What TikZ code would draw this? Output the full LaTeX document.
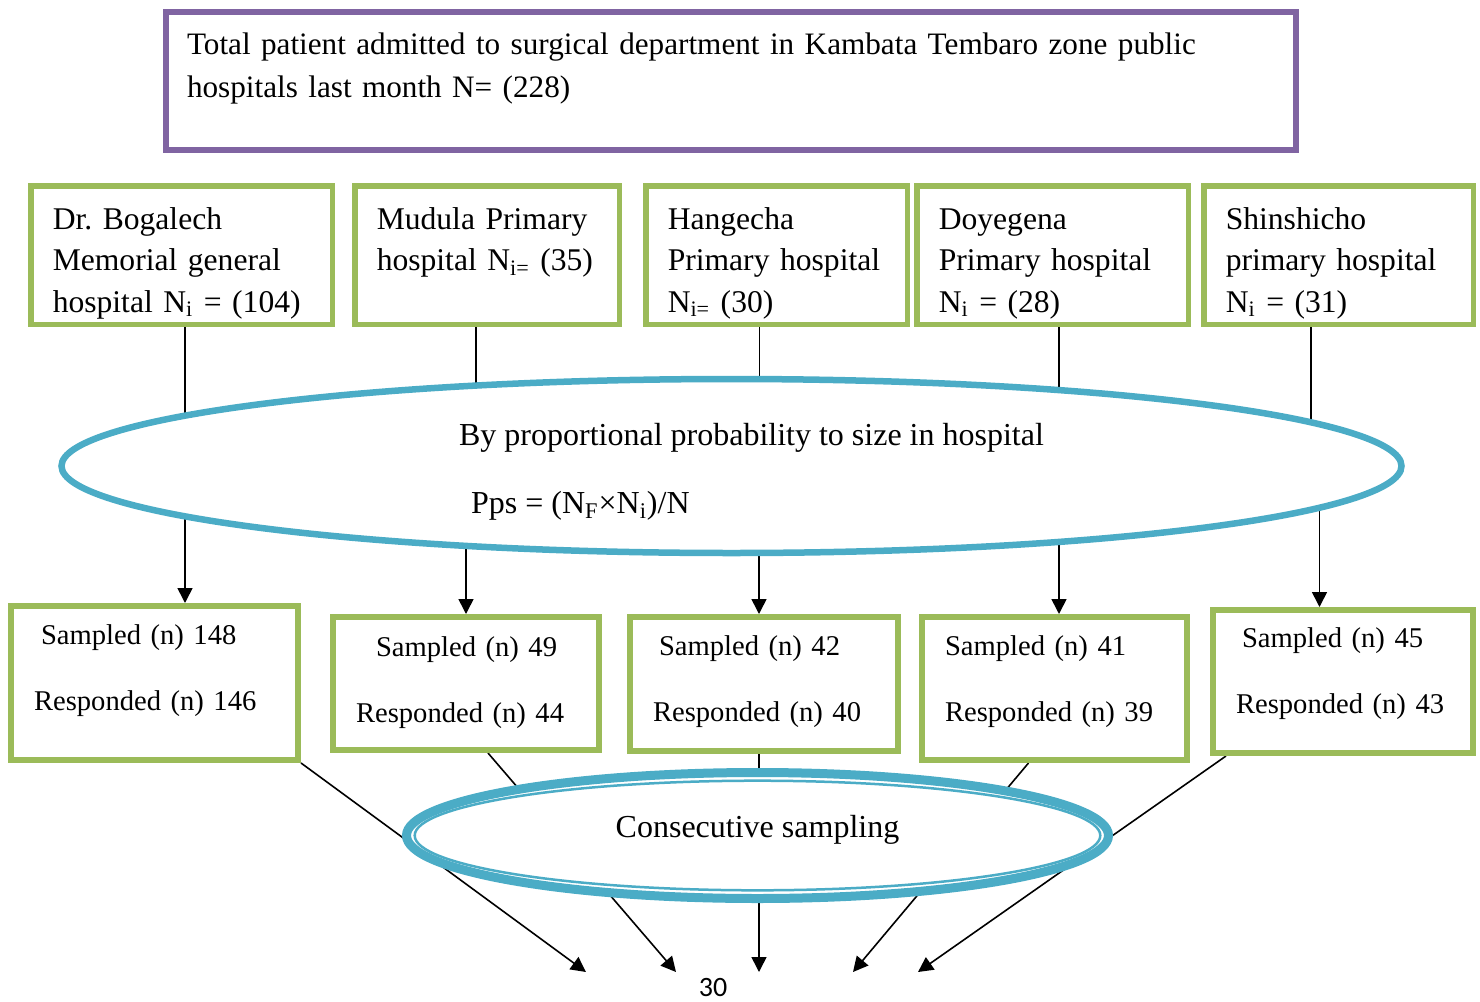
\documentclass[tikz,border=0pt]{standalone}
\usepackage{fontspec}
\setmainfont{Liberation Serif}
\newfontfamily\pagefont{Carlito}
\usepackage{xcolor}
\definecolor{verdos}{RGB}{155,187,89}
\definecolor{morados}{RGB}{128,100,162}
\definecolor{celestes}{RGB}{75,172,198}
\usetikzlibrary{shapes, arrows.meta, positioning, backgrounds}
\newcommand{\alto}[1]{\rule{0pt}{#1}}
\newcommand{\bajo}[1]{\rule[-#1]{0pt}{#1}}
\frenchspacing

\begin{document}
\begin{tikzpicture}[x=0.5pt, y=-0.5pt,
    flecha/.style={line width=0.8pt, -{Triangle[length=7.5pt, width=7.5pt]}},
    hosp/.style={draw=verdos, line width=2.75pt, inner xsep=11pt, inner ysep=0pt, align=left,
      minimum height=69.25pt, font=\fontsize{15.8}{20.75}\selectfont},
    muestra/.style={draw=verdos, line width=3pt, inner xsep=11.5pt, inner ysep=0pt, align=left,
      font=\fontsize{14.3}{33}\selectfont},
    elipse/.style={ellipse, draw=celestes, fill=white, inner sep=0pt}]
  \useasboundingbox (0,0) rectangle (1480,1002);

  % Total
  \node[draw=morados, line width=2.85pt, text width=544pt, inner xsep=10.5pt, inner ysep=0pt,
    minimum height=69pt, align=left, font=\fontsize{15.6}{21.5}\selectfont] (total) at (731,81)
    {Total patient admitted to surgical department in Kambata Tembaro zone public\\hospitals last month N= (228)\bajo{15.5pt}};

  % Hospitales
  \node[hosp, text width=128.75pt] (h1) at (181.5,255) {\alto{19.5pt}Dr. Bogalech\\Memorial general\\hospital N\textsubscript{i} = (104)\bajo{4pt}};
  \node[hosp, text width=110.25pt] (h2) at (487,255) {\alto{19.5pt}Mudula Primary\\hospital N\textsubscript{i=} (35)\\\bajo{4pt}};
  \node[hosp, text width=108.75pt] (h3) at (776.5,255) {\alto{19.5pt}Hangecha\\Primary hospital\\N\textsubscript{i=} (30)\bajo{4pt}};
  \node[hosp, text width=113.75pt] (h4) at (1052.5,255) {\alto{19.5pt}Doyegena\\Primary hospital\\N\textsubscript{i} = (28)\bajo{4pt}};
  \node[hosp, text width=112.75pt] (h5) at (1338.5,255) {\alto{19.5pt}Shinshicho\\primary hospital\\N\textsubscript{i} = (31)\bajo{4pt}};

  % Elipse PPS
  \node[elipse, line width=3.25pt, minimum width=670pt, minimum height=87pt, align=left,
    font=\fontsize{16}{34}\selectfont] (pps) at (731.5,466)
    {\alto{16.5pt}\hspace*{20pt}By proportional probability to size in hospital\\\hspace*{26pt}Pps = (N\textsubscript{F}×N\textsubscript{i})/N};

  % Muestras
  \node[muestra, text width=120.5pt, minimum height=77pt] (l1) at (154.5,683) {\hspace*{3.5pt}Sampled (n) 148\\Responded (n) 146\bajo{15.5pt}};
  \node[muestra, text width=110pt, minimum height=66.5pt] (l2) at (466,683.5) {\hspace*{10pt}Sampled (n) 49\\Responded (n) 44\bajo{3.5pt}};
  \node[muestra, text width=111pt, minimum height=67pt] (l3) at (764,684) {\hspace*{3pt}Sampled (n) 42\\Responded (n) 40\bajo{5.5pt}};
  \node[muestra, text width=109.5pt, minimum height=71.5pt] (l4) at (1054.5,688.5) {Sampled (n) 41\\Responded (n) 39\bajo{10pt}};
  \node[muestra, text width=107pt, minimum height=71.5pt] (l5) at (1343,681.5) {\hspace*{3pt}Sampled (n) 45\\Responded (n) 43\bajo{11pt}};

  % Muestreo consecutivo
  \node[elipse, line width=4.5pt, minimum width=351pt, minimum height=63pt,
    font=\fontsize{16}{20}\selectfont] (cons) at (757.5,835.5) {Consecutive sampling\bajo{9.5pt}};
  \draw[celestes, line width=1.25pt] (cons.center) ellipse [x radius=171.4pt, y radius=27.4pt];

  % Puntas libres
  \coordinate (e1) at (586,972);
  \coordinate (e2) at (676,972);
  \coordinate (e3) at (759,972);
  \coordinate (e4) at (853,972);
  \coordinate (e5) at (918,972);

  \node[font=\pagefont\fontsize{14}{16}\selectfont, inner sep=0pt] (pagina) at (713,987) {30};

  % Conectores
  \begin{scope}[on background layer]
    \foreach \i/\a/\b in {1/1.75pt/15.25pt, 2/-5.5pt/0pt, 3/-8.5pt/-2.5pt, 4/3.25pt/2.25pt, 5/-13.75pt/-11.75pt}
      \draw[flecha] ([xshift=\a]h\i.south) |- (pps.center) -| ([xshift=\b]l\i.north);
    \foreach \i/\s in {1/73.25pt, 2/11pt, 3/-2.5pt, 4/-13pt, 5/-58.5pt}
      \draw[flecha] ([xshift=\s]l\i.south) -- (e\i);
  \end{scope}
\end{tikzpicture}
\end{document}
